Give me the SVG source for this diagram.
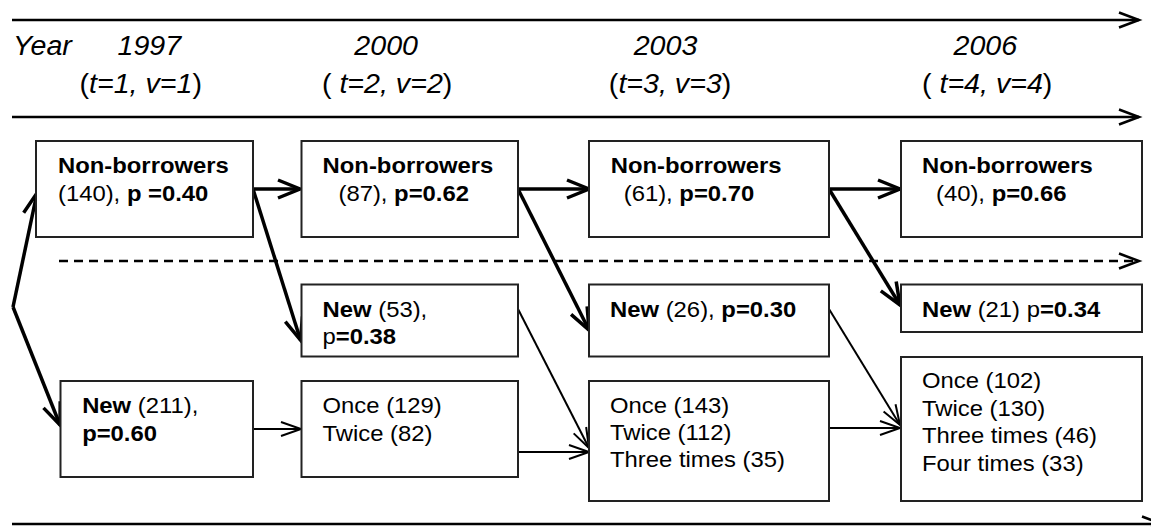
<svg xmlns="http://www.w3.org/2000/svg" width="1151" height="527" viewBox="0 0 1151 527">
<style>
text{font-family:"Liberation Sans",Arial,sans-serif;fill:#000}
.hd{font-size:27px}
.it{font-style:italic}
.bx{font-size:22.5px}
.b{font-weight:bold}
.box{fill:#fff;stroke:#222;stroke-width:2}
.ax{stroke:#000;stroke-width:2.5;fill:none}
.thick{stroke:#000;stroke-width:3.5;fill:none;marker-end:url(#mThick)}
.thin{stroke:#000;stroke-width:2;fill:none;marker-end:url(#mThin)}
</style>
<defs>
<marker id="mAx" markerUnits="userSpaceOnUse" markerWidth="30" markerHeight="24" refX="22" refY="12" orient="auto" overflow="visible">
<path d="M2,4.5 L22,12 L2,19.5" fill="none" stroke="#000" stroke-width="2.5"/>
</marker>
<marker id="mThick" markerUnits="userSpaceOnUse" markerWidth="30" markerHeight="24" refX="23" refY="12" orient="auto" overflow="visible">
<path d="M1,3 L23,12 L1,21" fill="none" stroke="#000" stroke-width="3.5"/>
</marker>
<marker id="mThin" markerUnits="userSpaceOnUse" markerWidth="30" markerHeight="24" refX="21" refY="12" orient="auto" overflow="visible">
<path d="M1,5 L21,12 L1,19" fill="none" stroke="#000" stroke-width="2"/>
</marker>
</defs>

<g id="timeline">
<line class="ax" x1="12" y1="20" x2="1139" y2="20" marker-end="url(#mAx)"/>
<line class="ax" x1="12" y1="117" x2="1139" y2="117" marker-end="url(#mAx)"/>
<line class="ax" x1="59" y1="261" x2="1139" y2="261" stroke-dasharray="9 6" marker-end="url(#mAx)"/>
<line class="ax" x1="12" y1="524" x2="1162" y2="524" marker-end="url(#mAx)"/>
</g>

<g id="header">
<text class="hd it" transform="scale(1.06 1)" x="12.3" y="55">Year</text>
<text class="hd it" transform="scale(1.06 1)" x="110.9" y="55">1997</text>
<text class="hd" transform="scale(1.06 1)" x="75" y="93">(<tspan class="it">t=1, v=1</tspan>)</text>
<text class="hd it" transform="scale(1.06 1)" x="334.3" y="55">2000</text>
<text class="hd" transform="scale(1.06 1)" x="303.7" y="93" xml:space="preserve">( <tspan class="it">t=2, v=2</tspan>)</text>
<text class="hd it" transform="scale(1.06 1)" x="597.8" y="55">2003</text>
<text class="hd" transform="scale(1.06 1)" x="574.4" y="93">(<tspan class="it">t=3, v=3</tspan>)</text>
<text class="hd it" transform="scale(1.06 1)" x="899.5" y="55">2006</text>
<text class="hd" transform="scale(1.06 1)" x="869.8" y="93" xml:space="preserve">( <tspan class="it">t=4, v=4</tspan>)</text>
</g>

<g id="connectors">
<line class="thick" x1="13" y1="307" x2="37" y2="193"/>
<line class="thick" x1="13" y1="307" x2="60" y2="425"/>
<line class="thick" x1="253" y1="189" x2="300" y2="189"/>
<line class="thick" x1="518" y1="189" x2="589" y2="189"/>
<line class="thick" x1="829" y1="189" x2="900" y2="189"/>
<line class="thick" x1="253" y1="189" x2="300.5" y2="340"/>
<line class="thick" x1="518" y1="189" x2="589" y2="330"/>
<line class="thick" x1="829" y1="189" x2="900" y2="305"/>
<line class="thin" x1="254" y1="429" x2="301" y2="429"/>
<line class="thin" x1="518" y1="452" x2="589" y2="452"/>
<line class="thin" x1="829" y1="428" x2="900" y2="428"/>
<line class="thin" x1="518" y1="309" x2="589" y2="448"/>
<line class="thin" x1="829" y1="309" x2="900" y2="425"/>
</g>

<g id="nb1997">
<rect class="box" x="36" y="141" width="217" height="96"/>
<text class="bx b" transform="scale(1.06 1)" x="54.7" y="173">Non-borrowers</text>
<text class="bx" transform="scale(1.06 1)" x="54.7" y="201" xml:space="preserve">(140), <tspan class="b">p =0.40</tspan></text>
</g>
<g id="nb2000">
<rect class="box" x="301.5" y="141" width="216.5" height="96"/>
<text class="bx b" transform="scale(1.06 1)" x="304.3" y="173">Non-borrowers</text>
<text class="bx" transform="scale(1.06 1)" x="319.3" y="201" xml:space="preserve">(87), <tspan class="b">p=0.62</tspan></text>
</g>
<g id="nb2003">
<rect class="box" x="589" y="141" width="240" height="96"/>
<text class="bx b" transform="scale(1.06 1)" x="576.2" y="173">Non-borrowers</text>
<text class="bx" transform="scale(1.06 1)" x="588.4" y="201" xml:space="preserve">(61), <tspan class="b">p=0.70</tspan></text>
</g>
<g id="nb2006">
<rect class="box" x="901" y="141" width="241" height="96"/>
<text class="bx b" transform="scale(1.06 1)" x="869.8" y="173">Non-borrowers</text>
<text class="bx" transform="scale(1.06 1)" x="883" y="201" xml:space="preserve">(40), <tspan class="b">p=0.66</tspan></text>
</g>

<g id="new2000">
<rect class="box" x="301.5" y="284.5" width="216.5" height="72"/>
<text class="bx" transform="scale(1.06 1)" x="304.3" y="317" xml:space="preserve"><tspan class="b">New</tspan> (53),</text>
<text class="bx" transform="scale(1.06 1)" x="304.3" y="344">p<tspan class="b">=0.38</tspan></text>
</g>
<g id="new2003">
<rect class="box" x="589" y="284.5" width="240" height="72"/>
<text class="bx" transform="scale(1.06 1)" x="575.5" y="317" xml:space="preserve"><tspan class="b">New</tspan> (26), <tspan class="b">p=0.30</tspan></text>
</g>
<g id="new2006">
<rect class="box" x="901" y="284.5" width="241" height="47.5"/>
<text class="bx" transform="scale(1.06 1)" x="869.8" y="317" xml:space="preserve"><tspan class="b">New</tspan> (21) p<tspan class="b">=0.34</tspan></text>
</g>

<g id="new1997">
<rect class="box" x="60.5" y="381" width="192.5" height="96"/>
<text class="bx" transform="scale(1.06 1)" x="77.5" y="413" xml:space="preserve"><tspan class="b">New</tspan> (211),</text>
<text class="bx b" transform="scale(1.06 1)" x="77.5" y="441">p=0.60</text>
</g>
<g id="rep2000">
<rect class="box" x="301.5" y="381" width="216.5" height="96"/>
<text class="bx" transform="scale(1.06 1)" x="304.3" y="413">Once (129)</text>
<text class="bx" transform="scale(1.06 1)" x="304.3" y="441">Twice (82)</text>
</g>
<g id="rep2003">
<rect class="box" x="589" y="381" width="240" height="120"/>
<text class="bx" transform="scale(1.06 1)" x="575.5" y="413">Once (143)</text>
<text class="bx" transform="scale(1.06 1)" x="575.5" y="440">Twice (112)</text>
<text class="bx" transform="scale(1.06 1)" x="575.5" y="467">Three times (35)</text>
</g>
<g id="rep2006">
<rect class="box" x="901" y="357" width="241" height="144"/>
<text class="bx" transform="scale(1.06 1)" x="869.8" y="388">Once (102)</text>
<text class="bx" transform="scale(1.06 1)" x="869.8" y="416">Twice (130)</text>
<text class="bx" transform="scale(1.06 1)" x="869.8" y="443">Three times (46)</text>
<text class="bx" transform="scale(1.06 1)" x="869.8" y="471">Four times (33)</text>
</g>
</svg>
